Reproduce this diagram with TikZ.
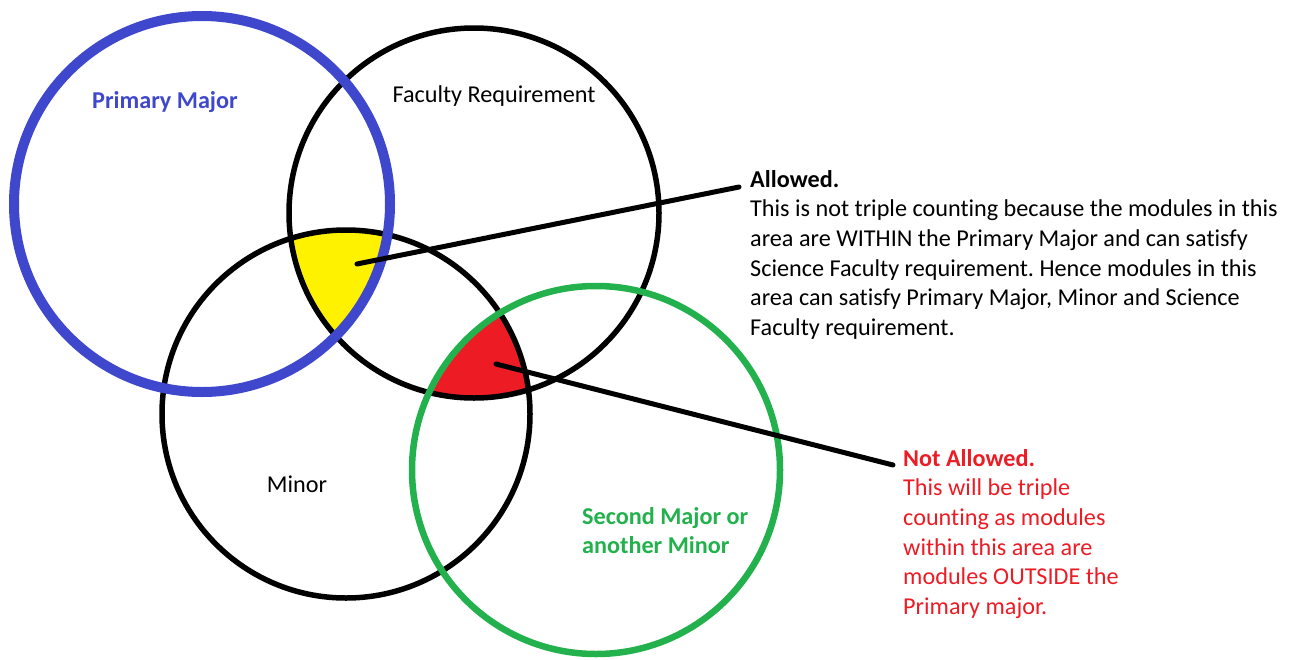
\documentclass[tikz,border=0pt]{standalone}
\usepackage{fontspec}
\setmainfont{Carlito}[Ligatures=NoCommon]
\frenchspacing
\definecolor{pmblue}{RGB}{63,72,204}
\definecolor{smgreen}{RGB}{34,177,76}
\definecolor{narred}{RGB}{237,28,36}
\definecolor{allyellow}{RGB}{255,242,0}
\begin{document}
\begin{tikzpicture}[x=1pt,y=-1pt,
  txt/.style={inner sep=0pt,anchor=base,font=\fontsize{24.2}{29.7}\selectfont},
  blk/.style={txt,anchor=base west},
  ring/.style={line width=5.5pt,draw=black},
  pointer/.style={line width=5pt,line cap=round}]
\useasboundingbox (0,0) rectangle (1293,659);
\fill[white] (0,0) rectangle (1293,659);
% shaded regions
\begin{scope}
  \clip (202,204) circle[radius=188];
  \clip (474,213) circle[radius=185];
  \fill[allyellow] (346,414) circle[radius=184];
\end{scope}
\begin{scope}
  \clip (596,470) circle[radius=184];
  \clip (474,213) circle[radius=185];
  \fill[narred] (346,414) circle[radius=184];
\end{scope}
% circles
\draw[ring] (474,213) circle[radius=185];
\draw[ring] (346,414) circle[radius=184];
\draw[line width=10pt,draw=pmblue] (202,204) circle[radius=188];
\draw[line width=6.5pt,draw=smgreen] (596,470) circle[radius=184];
% labels
\node[txt,text=pmblue] (pm) at (165,108) {\bfseries Primary Major};
\node[txt] (fr) at (494,102) {Faculty Requirement};
\node[txt] (mi) at (297,492) {Minor};
\node[blk,text=smgreen] (sm) at (582,524) {\parbox[t]{300pt}{\bfseries Second Major or\\another Minor}};
\node[blk] (al) at (750,187) {\parbox[t]{540pt}{\textbf{Allowed.}\\This is not triple counting because the modules in this\\area are WITHIN the Primary Major and can satisfy\\Science Faculty requirement. Hence modules in this\\area can satisfy Primary Major, Minor and Science\\Faculty requirement.}};
\node[blk,text=narred] (na) at (903,466) {\parbox[t]{300pt}{\textbf{Not Allowed.}\\This will be triple\\counting as modules\\within this area are\\modules OUTSIDE the\\Primary major.}};
% connectors
\coordinate (ys) at (357,264);
\coordinate (ye) at (739,187);
\coordinate (rs) at (496,364);
\coordinate (re) at (893,465);
\draw[pointer] (ys) -- (ye);
\draw[pointer] (rs) -- (re);
\end{tikzpicture}
\end{document}
